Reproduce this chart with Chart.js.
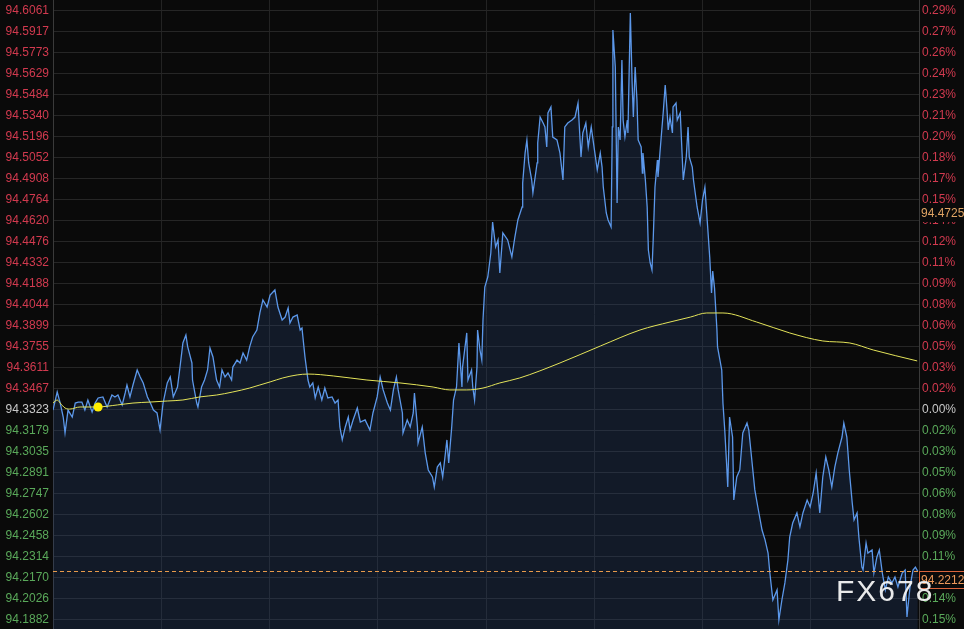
<!DOCTYPE html>
<html>
<head>
<meta charset="utf-8">
<script src="https://cdn.jsdelivr.net/npm/chart.js@4/dist/chart.umd.min.js"></script>
<style>
  html, body { margin: 0; padding: 0; background: #0a0a0a; }
  #wrap { width: 964px; height: 629px; }
</style>
</head>
<body>
<div id="wrap"><canvas id="chart" width="964" height="629"></canvas></div>
<script>
// previous close (0.00% line), last traded price and the marked level on the right
const prevClose = 94.3323;
const lastPrice = 94.2212;
const markPrice = 94.4725;

// left axis price ticks and right axis percent ticks (top to bottom)
const priceTicks = ['94.6061','94.5917','94.5773','94.5629','94.5484','94.5340','94.5196','94.5052','94.4908','94.4764',
  '94.4620','94.4476','94.4332','94.4188','94.4044','94.3899','94.3755','94.3611','94.3467','94.3323',
  '94.3179','94.3035','94.2891','94.2747','94.2602','94.2458','94.2314','94.2170','94.2026','94.1882'];
const pctTicks = ['0.29%','0.27%','0.26%','0.24%','0.23%','0.21%','0.20%','0.18%','0.17%','0.15%',
  '0.14%','0.12%','0.11%','0.09%','0.08%','0.06%','0.05%','0.03%','0.02%','0.00%',
  '0.02%','0.03%','0.05%','0.06%','0.08%','0.09%','0.11%','0.12%','0.14%','0.15%'];

// minutes into the session for each price tick
const minutes = [
  0,7,12,17,20,25,32,37,42,48,53,58,65,70,75,83,90,98,103,108,115,120,123,128,133,140,145,150,157,162,
  167,173,178,183,190,195,200,207,212,216,221,224,231,232,239,241,247,252,257,261,266,272,277,281,286,291,297,299,306,311,
  316,322,327,332,339,344,349,356,361,369,374,381,386,391,394,399,406,411,
  414,419,424,427,432,436,441,447,452,457,464,469,474,477,481,486,491,494,499,506,
  511,519,527,532,539,544,549,556,561,566,571,574,581,582,589,594,599,601,606,607,
  614,619,624,631,634,639,644,648,655,658,663,666,671,675,680,681,688,690,696,698,
  701,705,706,710,713,715,718,723,728,731,736,740,743,
  748,756,763,768,773,780,781,785,788,791,796,798,805,806,810,815,818,821,823,828,
  831,838,843,848,851,856,863,868,873,878,881,886,890,895,898,905,910,913,915,920,
  923,928,930,931,935,938,940,943,946,948,951,955,956,960,963,965,968,971,973,978,
  980,981,985,988,990,993,996,998,1001,1005,1006,1010,1015,1018,1021,1023,1026,1030,1031,1036,
  1038,1043,1046,1048,1053,1056,1058,1063,1065,1071,1076,1080,1084,1087,1092,1095,1097,1100,
  1104,1105,1112,1114,1117,1120,1122,1125,1130,1132,1137,1142,1147,1154,1157,1162,1167,1172,1179,1184,
  1189,1192,1197,1204,1207,1212,1217,1222,1225,1230,1237,1242,1247,1254,1259,1264,1269,1275,1280,1285,
  1290,1295,1300,1305,1312,1315,1320,1324,1329,1332,1337,1340,1345,1347,1352,1355,1362,1365,1370,1374,
  1379,1384,1389,1395,1400,1405,1412,1417,1420,1425,1430,1434,1438
];

const prices = [
  94.3319,94.3443,94.3367,94.3271,94.3162,94.3319,94.3271,94.3367,94.3374,94.3374,
  94.3319,94.3388,94.3306,94.3367,94.3402,94.3409,94.3340,94.3422,94.3409,94.3422,
  94.3354,94.3436,94.3491,94.3409,94.3491,94.3594,94.3546,94.3505,94.3409,94.3367,
  94.3319,94.3299,94.3182,94.3367,94.3505,94.3546,94.3409,94.3477,94.3642,94.3779,
  94.3834,94.3752,94.3642,94.3525,94.3367,94.3340,94.3477,94.3525,94.3594,94.3745,
  94.3683,94.3525,94.3477,94.3594,94.3546,94.3573,94.3525,94.3614,94.3662,94.3642,
  94.3710,94.3662,94.3752,94.3820,94.3868,94.3985,94.4074,94.4026,94.4108,94.4143,
  94.4026,94.3937,94.3957,94.4019,94.3916,94.3957,94.3971,94.3868,
  94.3882,94.3683,94.3525,94.3477,94.3505,94.3402,94.3477,94.3388,94.3470,94.3402,
  94.3409,94.3367,94.3388,94.3203,94.3114,94.3203,94.3271,94.3182,94.3251,94.3333,
  94.3237,94.3251,94.3182,94.3299,94.3409,94.3546,94.3457,94.3367,94.3319,94.3457,
  94.3546,94.3457,94.3299,94.3162,94.3251,94.3203,94.3299,94.3436,94.3203,94.3093,
  94.3203,94.3024,94.2908,94.2860,94.2791,94.2928,94.2956,94.2860,94.3114,94.2956,
  94.3203,94.3388,94.3477,94.3779,94.3477,94.3614,94.3848,94.3525,94.3594,94.3477,
  94.3388,94.3614,94.3868,94.3731,94.3662,94.3937,94.4163,94.4232,94.4396,94.4609,
  94.4438,94.4486,94.4259,
  94.4534,94.4486,94.4369,94.4506,94.4623,94.4712,94.4877,94.5082,94.5172,94.5014,
  94.4897,94.4808,94.5014,94.5151,94.5329,94.5288,94.5261,94.5124,94.5357,94.5398,
  94.5192,94.5172,94.5082,94.4897,94.5261,94.5288,94.5309,94.5329,94.5425,94.5055,
  94.5220,94.5288,94.5124,94.5261,94.5172,94.4966,94.5082,94.4986,94.4849,94.4671,
  94.4623,94.4575,94.5261,94.5926,94.5672,94.4739,94.5261,94.5172,94.5720,94.5309,
  94.5192,94.5309,94.5220,94.6043,94.5563,94.5329,94.5672,94.5446,94.5172,94.5124,
  94.4945,94.5082,94.4897,94.4712,94.4417,94.4328,94.4280,94.4486,94.4849,94.5034,
  94.4918,94.5124,94.5377,94.5549,94.5377,94.5240,94.5329,94.5220,94.5398,94.5425,
  94.5309,94.5357,94.5082,94.4897,94.5055,94.5261,94.5055,94.4986,94.4897,94.4712,
  94.4602,94.4760,94.4849,94.4671,94.4369,94.4122,94.4273,94.4156,
  94.3868,94.3752,94.3594,94.3367,94.3182,94.2956,94.2791,94.3271,94.3134,94.2702,
  94.2860,94.2908,94.3162,94.3230,94.3182,94.2976,94.2771,94.2654,94.2496,94.2428,
  94.2338,94.2201,94.2016,94.2085,94.1879,94.2016,94.2133,94.2290,94.2448,94.2544,
  94.2613,94.2517,94.2613,94.2702,94.2654,94.2750,94.2887,94.2613,94.2860,94.2997,
  94.2908,94.2791,94.2928,94.3024,94.3134,94.3230,94.3134,94.2908,94.2681,94.2565,
  94.2613,94.2448,94.2242,94.2222,94.2407,94.2338,94.2359,94.2201,94.2311,94.2359,
  94.2201,94.2085,94.2174,94.2133,94.2174,94.2105,94.2201,94.2222,94.1899,94.2105,
  94.2222,94.2242,94.2212
];

// moving average (yellow)
const maMinutes = [0,7,12,20,28,45,73,107,133,162,190,216,244,272,299,327,344,361,382,406,
  424,466,522,577,632,660,688,715,743,776,843,910,976,1026,1060,1087,1114,1170,1225,1280,1325,1364,1437];
const maPrices = [94.3367,94.3388,94.3367,94.3333,94.3326,94.3340,94.3340,94.3354,94.3367,94.3374,
  94.3381,94.3388,94.3409,94.3422,94.3443,94.3470,94.3491,94.3512,94.3539,94.3560,
  94.3566,94.3553,94.3525,94.3505,94.3477,94.3457,94.3457,94.3470,94.3505,94.3539,
  94.3642,94.3758,94.3868,94.3923,94.3957,94.3985,94.3985,94.3923,94.3848,94.3793,
  94.3779,94.3731,94.3656];

// yellow marker on the average
const markerMinute = 75;
const markerPrice = 94.3340;

const RED = '#d23a4f', GREEN = '#5aa95a', GREY = '#c8c8c8';
const FONT = "'Liberation Sans', Arial, sans-serif";

function tickColor(ctx) {
    const v = ctx.tick ? ctx.tick.value : prevClose;
    if (Math.abs(v - prevClose) < 1e-6) return GREY;
    return v > prevClose ? RED : GREEN;
}

const tickValues = priceTicks.map(t => ({ value: parseFloat(t) }));

function fitSide(width) {
    return s => {
        s.width = width;
        s.paddingTop = 0;
        s.paddingBottom = 0;
    };
}

const overlay = {
    id: 'overlay',
    afterDatasetsDraw(chart) {
        const { ctx, chartArea, scales } = chart;
        const y = scales.y;

        // dashed last price line
        const yl = Math.round(y.getPixelForValue(lastPrice)) + 0.5;
        ctx.save();
        ctx.strokeStyle = '#e89a4a';
        ctx.lineWidth = 1;
        ctx.setLineDash([4, 3]);
        ctx.beginPath();
        ctx.moveTo(chartArea.left, yl);
        ctx.lineTo(chartArea.right, yl);
        ctx.stroke();
        ctx.restore();
    },
    afterDraw(chart) {
        const { ctx, chartArea, scales } = chart;
        const y = scales.y;
        const right = chartArea.right;

        ctx.save();
        ctx.font = '12px ' + FONT;
        ctx.textBaseline = 'middle';
        ctx.textAlign = 'left';

        // marked level label
        const ym = Math.round(y.getPixelForValue(markPrice));
        ctx.fillStyle = '#0a0a0a';
        ctx.fillRect(right + 1, ym, 964 - right, 17);
        ctx.fillStyle = '#e0a464';
        ctx.fillText(markPrice.toFixed(4), right + 2, ym + 9);

        // last price box
        const yl = Math.round(y.getPixelForValue(lastPrice));
        ctx.fillStyle = '#0a0a0a';
        ctx.fillRect(right, yl, 964 - right, 18);
        ctx.strokeStyle = '#d8643c';
        ctx.lineWidth = 1;
        ctx.strokeRect(right + 0.5, yl + 0.5, 964 - right, 17);
        ctx.fillStyle = '#ee9a5c';
        ctx.fillText(lastPrice.toFixed(4), right + 2, yl + 9.5);

        // watermark
        ctx.font = '30px ' + FONT;
        ctx.letterSpacing = '2px';
        ctx.fillStyle = 'rgba(245,245,245,0.95)';
        ctx.fillText('FX678', 836, 593);
        ctx.restore();
    }
};

new Chart(document.getElementById('chart'), {
    type: 'line',
    data: {
        datasets: [
            {
                label: 'marker',
                data: [{ x: markerMinute, y: markerPrice }],
                showLine: false,
                pointRadius: 4.5,
                pointBackgroundColor: '#ffee00',
                pointBorderWidth: 0
            },
            {
                label: 'MA',
                data: maMinutes.map((m, i) => ({ x: m, y: maPrices[i] })),
                borderColor: '#e4e45a',
                borderWidth: 1,
                pointRadius: 0,
                cubicInterpolationMode: 'monotone',
                fill: false
            },
            {
                label: 'price',
                data: minutes.map((m, i) => ({ x: m, y: prices[i] })),
                borderColor: '#5c98ea',
                borderWidth: 1.3,
                pointRadius: 0,
                tension: 0,
                fill: 'start',
                backgroundColor: 'rgba(40,70,120,0.28)'
            }
        ]
    },
    options: {
        responsive: false,
        animation: false,
        events: [],
        layout: { padding: 0, autoPadding: false },
        plugins: {
            legend: { display: false },
            tooltip: { enabled: false }
        },
        scales: {
            x: {
                type: 'linear',
                min: 0,
                max: 1440,
                position: 'bottom',
                ticks: { display: false, stepSize: 180 },
                grid: { color: '#232323', drawTicks: false },
                border: { display: false },
                afterFit: s => { s.height = 0; s.paddingLeft = 0; s.paddingRight = 0; }
            },
            y: {
                position: 'left',
                min: 94.1817,
                max: 94.6132,
                afterBuildTicks: s => { s.ticks = tickValues.map(t => ({ ...t })); },
                afterFit: fitSide(53),
                ticks: {
                    autoSkip: false,
                    padding: 4,
                    font: { family: FONT, size: 12 },
                    color: tickColor,
                    callback: (v, i) => priceTicks[i]
                },
                grid: { color: '#262626', drawTicks: false },
                border: { display: true, color: '#3a3a3a' }
            },
            y2: {
                position: 'right',
                min: 94.1817,
                max: 94.6132,
                afterBuildTicks: s => { s.ticks = tickValues.map(t => ({ ...t })); },
                afterFit: fitSide(45),
                ticks: {
                    autoSkip: false,
                    padding: 3,
                    font: { family: FONT, size: 12 },
                    color: tickColor,
                    callback: (v, i) => pctTicks[i]
                },
                grid: { display: false, drawTicks: false },
                border: { display: true, color: '#3a3a3a' }
            }
        }
    },
    plugins: [overlay]
});
</script>
</body>
</html>
